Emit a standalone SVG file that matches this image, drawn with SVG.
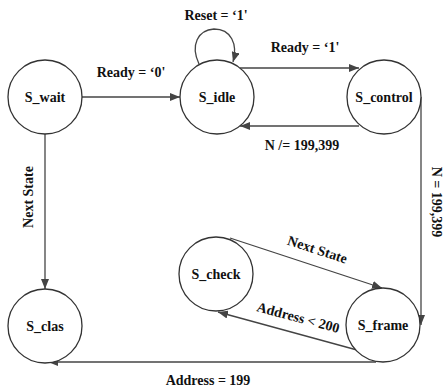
<svg xmlns="http://www.w3.org/2000/svg" width="443" height="389" viewBox="0 0 443 389">
<style>
.n{fill:#fff;stroke:#333;stroke-width:1.3}
.t{font-family:"Liberation Serif","Times New Roman",Times,serif;font-weight:700;font-size:14px;fill:#111;text-anchor:middle}
.c{fill:none;stroke:#444;stroke-width:1.3}
</style>
<defs>
<marker id="a" markerWidth="10" markerHeight="8" refX="10" refY="4" orient="auto" markerUnits="userSpaceOnUse">
<path d="M0,0L10,4L0,8Z" fill="#444"/>
</marker>
</defs>
<rect width="443" height="389" fill="#fff"/>
<g id="connectors">
<path class="c" d="M82,97H180" marker-end="url(#a)"/>
<path class="c" d="M199,64C190,45 198,30 214,29C231,29 238,44 233,62" marker-end="url(#a)"/>
<path class="c" d="M240,68H359" marker-end="url(#a)"/>
<path class="c" d="M359,126H240" marker-end="url(#a)"/>
<path class="c" d="M421,97V325" marker-end="url(#a)"/>
<path class="c" d="M45,134V289" marker-end="url(#a)"/>
<path class="c" d="M230,238L382,288" marker-end="url(#a)"/>
<path class="c" d="M357,350L218,312" marker-end="url(#a)"/>
<path class="c" d="M376,362H48" marker-end="url(#a)"/>
<text class="t" x="131" y="77">Ready = ‘0'</text>
<text class="t" x="216" y="20">Reset = ‘1'</text>
<text class="t" x="305" y="52">Ready = ‘1'</text>
<text class="t" x="302" y="150">N /= 199,399</text>
<text class="t" transform="translate(432,202) rotate(90)" font-size="13">N = 199,399</text>
<text class="t" transform="translate(33,197) rotate(-90)">Next State</text>
<text class="t" transform="translate(316,254) rotate(18)">Next State</text>
<text class="t" transform="translate(297,322) rotate(15)">Address &lt; 200</text>
<text class="t" x="208" y="385">Address = 199</text>
</g>
<g id="S_wait"><circle class="n" cx="45" cy="97" r="37"/><text class="t" x="45" y="102">S_wait</text></g>
<g id="S_idle"><circle class="n" cx="217" cy="97" r="37"/><text class="t" x="217" y="102">S_idle</text></g>
<g id="S_control"><circle class="n" cx="384" cy="97" r="37"/><text class="t" x="384" y="102">S_control</text></g>
<g id="S_clas"><circle class="n" cx="45" cy="326" r="37"/><text class="t" x="45" y="331">S_clas</text></g>
<g id="S_check"><circle class="n" cx="216" cy="274" r="37"/><text class="t" x="216" y="279">S_check</text></g>
<g id="S_frame"><circle class="n" cx="383" cy="325" r="37"/><text class="t" x="383" y="330">S_frame</text></g>
</svg>
